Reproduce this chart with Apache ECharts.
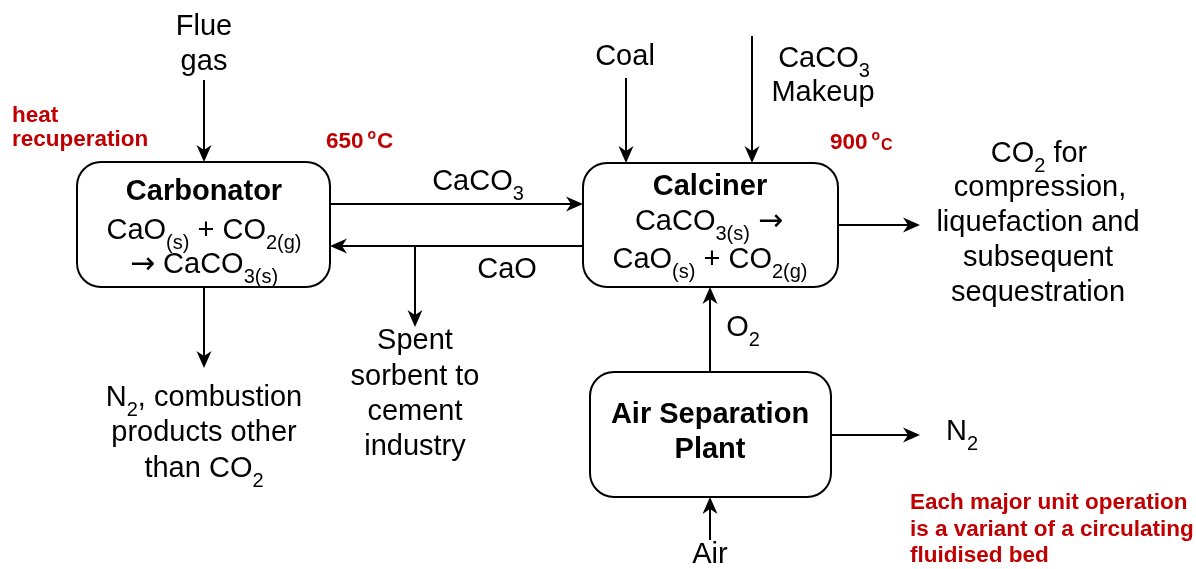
<!DOCTYPE html>
<html><head><meta charset="utf-8">
<script src="https://cdn.jsdelivr.net/npm/echarts@6/dist/echarts.min.js"></script>
<style>html,body{margin:0;padding:0;background:#fff}#c{width:1196px;height:569px}</style>
</head><body><div id="c"></div>
<script>
// Process units: [left, top, right, bottom] in diagram units
const units = [
  [77, 162, 330, 287],   // Carbonator
  [583, 163, 838, 287],  // Calciner
  [590, 372, 831, 497]   // Air Separation Plant
];
// Flows: [fromX, fromY, toX, toY]
const flows = [
  [204, 80, 204, 162],
  [204, 287, 204, 368],
  [330, 204, 583, 204],
  [583, 246, 330, 246],
  [415, 246, 415, 327],
  [626, 78, 626, 163],
  [752, 36, 752, 163],
  [838, 225, 920, 225],
  [710, 372, 710, 287],
  [710, 540, 710, 497],
  [831, 435, 920, 435]
];
// Labels: [x, y, text]   (_{..} = subscript, ^ = reaction arrow)
const plainLabels = [
  [204, 27, 'Flue'], [204, 62, 'gas'],
  [625, 57, 'Coal'],
  [824, 59, 'CaCO_{3}'], [823, 93, 'Makeup'],
  [478, 182, 'CaCO_{3}'],
  [507, 270, 'CaO'],
  [1039, 154, 'CO_{2} for'], [1040, 188, 'compression,'], [1038, 223, 'liquefaction and'],
  [1038, 258, 'subsequent'], [1038, 293, 'sequestration'],
  [743, 328, 'O_{2}'],
  [962, 432, 'N_{2}'],
  [710, 555, 'Air'],
  [415, 341, 'Spent'], [415, 377, 'sorbent to'], [415, 412, 'cement'], [415, 447, 'industry'],
  [204, 398, 'N_{2}, combustion'], [204, 433, 'products other'], [204, 469, 'than CO_{2}'],
  [204, 231, 'CaO_{(s)} + CO_{2(g)}'], [204, 265, '^ CaCO_{3(s)}'],
  [709, 222, 'CaCO_{3(s)} ^'], [710, 260, 'CaO_{(s)} + CO_{2(g)}']
];
const unitTitles = [
  [204, 192, 'Carbonator'],
  [710, 187, 'Calciner'],
  [710, 415, 'Air Separation'], [710, 450, 'Plant']
];
const notes = [
  [12, 116, '{r|heat}'], [12, 140, '{r|recuperation}'],
  [326, 142, '{r|650}{p|o}{r|C}'],
  [830, 143, '{r|900}{p|o}{q|C}'],
  [910, 503, '{r|Each major unit operation}'],
  [910, 530, '{r|is a variant of a circulating}'],
  [910, 556, '{r|fluidised bed}']
];

const FONT = '"Liberation Sans", Arial, Helvetica, sans-serif';
const RED = '#c00000';
// text run styles: size, weight, family, colour, vertical shift, left/right pad
const RUNS = {
  n: { size: 29, weight: 'normal', family: FONT, fill: '#000', dy: 0 },
  s: { size: 20, weight: 'normal', family: FONT, fill: '#000', dy: 12 },
  a: { size: 30, weight: 'normal', family: '"DejaVu Sans", sans-serif', fill: '#000', dy: 0 },
  b: { size: 29, weight: 'bold', family: FONT, fill: '#000', dy: 0 },
  r: { size: 22.5, weight: 'bold', family: FONT, fill: RED, dy: 0 },
  p: { size: 14, weight: 'bold', family: FONT, fill: RED, dy: -7, padL: 4, padR: 1 },
  q: { size: 16, weight: 'bold', family: FONT, fill: RED, dy: 2.5 }
};
function toMarkup(s, base) {
  return ('{' + base + '|' + s.replace(/_\{([^}]*)\}/g, '}{s|$1}{' + base + '|').replace(/\^/g, '}{a|\u2192}{' + base + '|') + '}')
    .replace(new RegExp('\\{' + base + '\\|\\}', 'g'), '');
}
const measureCtx = document.createElement('canvas').getContext('2d');
function runFont(st) { return st.weight + ' ' + st.size + 'px ' + st.family; }
function parseRuns(markup) {
  const out = [];
  const re = /\{(\w)\|([^}]*)\}/g;
  let m;
  while ((m = re.exec(markup))) {
    const st = RUNS[m[1]];
    measureCtx.font = runFont(st);
    out.push({ t: m[2], st: st, w: measureCtx.measureText(m[2]).width + (st.padL || 0) + (st.padR || 0) });
  }
  return out;
}

function textSeries(list, base, align) {
  return {
    type: 'custom', silent: true, z: 10,
    data: list.map(l => [l[0], l[1]]),
    renderItem: function (params, api) {
      const p = api.coord([api.value(0), api.value(1)]);
      const raw = list[params.dataIndex][2];
      const runs = parseRuns(base ? toMarkup(raw, base) : raw);
      const total = runs.reduce((acc, r) => acc + r.w, 0);
      let x = align === 'center' ? p[0] - total / 2 : p[0];
      const children = runs.map(r => {
        const el = {
          type: 'text', x: x + (r.st.padL || 0), y: p[1] + r.st.dy,
          style: { text: r.t, fill: r.st.fill, fontSize: r.st.size, fontWeight: r.st.weight, fontFamily: r.st.family, align: 'left', verticalAlign: 'middle' }
        };
        x += r.w;
        return el;
      });
      return { type: 'group', children: children };
    }
  };
}

const chart = echarts.init(document.getElementById('c'));
chart.setOption({
  animation: false,
  backgroundColor: '#fff',
  grid: { left: 0, right: 0, top: 0, bottom: 0 },
  xAxis: { type: 'value', min: 0, max: 1196, show: false },
  yAxis: { type: 'value', min: 0, max: 569, inverse: true, show: false },
  series: [
    {
      type: 'custom', silent: true, z: 2,
      data: units,
      renderItem: function (params, api) {
        const a = api.coord([api.value(0), api.value(1)]);
        const b = api.coord([api.value(2), api.value(3)]);
        return {
          type: 'rect',
          shape: { x: a[0], y: a[1], width: b[0] - a[0], height: b[1] - a[1], r: 24 },
          style: { fill: '#fff', stroke: '#000', lineWidth: 2 }
        };
      }
    },
    {
      type: 'custom', silent: true, z: 3,
      data: flows,
      renderItem: function (params, api) {
        const a = api.coord([api.value(0), api.value(1)]);
        const b = api.coord([api.value(2), api.value(3)]);
        const dx = b[0] - a[0], dy = b[1] - a[1], L = Math.hypot(dx, dy);
        const ux = dx / L, uy = dy / L, px = -uy, py = ux;
        const len = 17, hw = 7.5, notch = 5;
        const back = [b[0] - ux * len, b[1] - uy * len];
        const n = [b[0] - ux * (len - notch), b[1] - uy * (len - notch)];
        return {
          type: 'group',
          children: [
            { type: 'line', shape: { x1: a[0], y1: a[1], x2: n[0], y2: n[1] }, style: { stroke: '#000', lineWidth: 2 } },
            { type: 'polygon', shape: { points: [b, [back[0] + px * hw, back[1] + py * hw], n, [back[0] - px * hw, back[1] - py * hw]] }, style: { fill: '#000' } }
          ]
        };
      }
    },
    textSeries(plainLabels, 'n', 'center'),
    textSeries(unitTitles, 'b', 'center'),
    textSeries(notes, null, 'left')
  ]
});
</script>
</body></html>
